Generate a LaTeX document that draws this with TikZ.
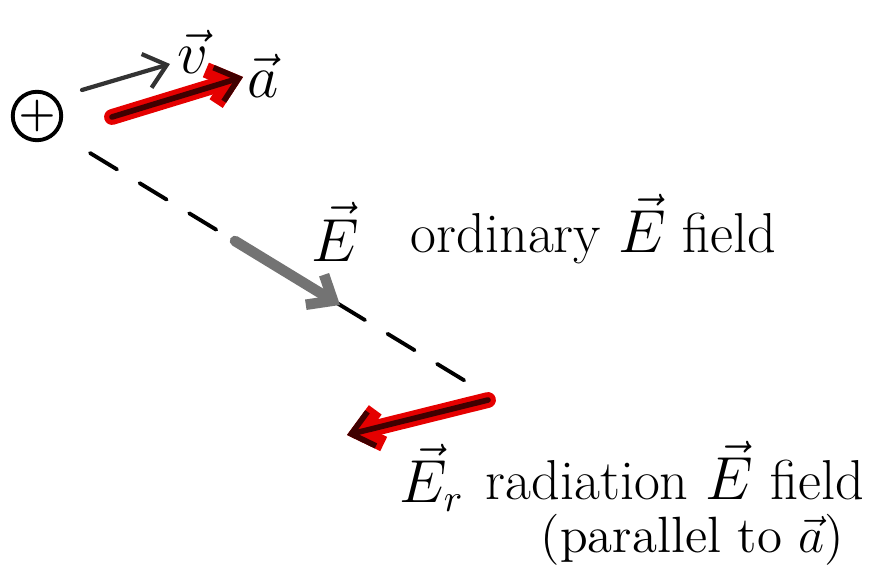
\documentclass[tikz,border=0pt]{standalone}
\usepackage{amsmath}
\usetikzlibrary{arrows.meta}
\begin{document}
\begin{tikzpicture}[x=0.01cm, y=-0.01cm, line join=round, line cap=round,
  >={Straight Barb[length=6pt,width=10pt]},
  every node/.style={font=\fontsize{16}{19}\selectfont}]
	\useasboundingbox (0,0) rectangle (893,570);
	\path 	(37,116) coordinate (Q)
	(82,90) coordinate (V1)
	(170,64) coordinate (V2)
	(112,117) coordinate (A1)
	(243,77) coordinate (A2)
	(90,153) coordinate (D1)
	(485,393) coordinate (D2)
	(235,241) coordinate (G1)
	(340,305) coordinate (G2)
	(488,400) coordinate (R1)
	(347,435) coordinate (R2);
	\node[draw, circle, line width=1.1pt, minimum size=0.44cm, inner sep=0pt, font=\fontsize{13}{13}\selectfont] (q) at (Q) {$\boldsymbol{+}$};
	\draw[dashed, line width=1.1pt, dash pattern=on 9pt off 7.5pt] (D1) -- (D2);
	\draw[->, line width=1.2pt, black!80] (V1) -- (V2);
	\foreach \s/\e in {A1/A2,R1/R2}
	{\draw[->, line width=4.5pt, red!90!black] (\s) -- (\e);
	\draw[->, line width=1.6pt, black!75!red] (\s) -- (\e);}
	\draw[->, line width=3pt, black!55] (G1) -- (G2);
	\draw (193,52) node (v) {$\vec{v}$}
	(263,76) node (a) {$\vec{a}$}
	(335,232) node (E) {$\vec{E}$}
	(432,478) node (Er) {$\vec{E}_r$};
	\node[anchor=base west, inner sep=0pt] (ordE) at (410,253) {ordinary $\vec{E}$ field};
	\node[anchor=base west, inner sep=0pt] (radE) at (485,500) {radiation $\vec{E}$ field};
	\node[anchor=base west, inner sep=0pt, font=\fontsize{14.5}{17}\selectfont] (par) at (540,553) {(parallel to $\vec{a}$)};
\end{tikzpicture}
\end{document}
